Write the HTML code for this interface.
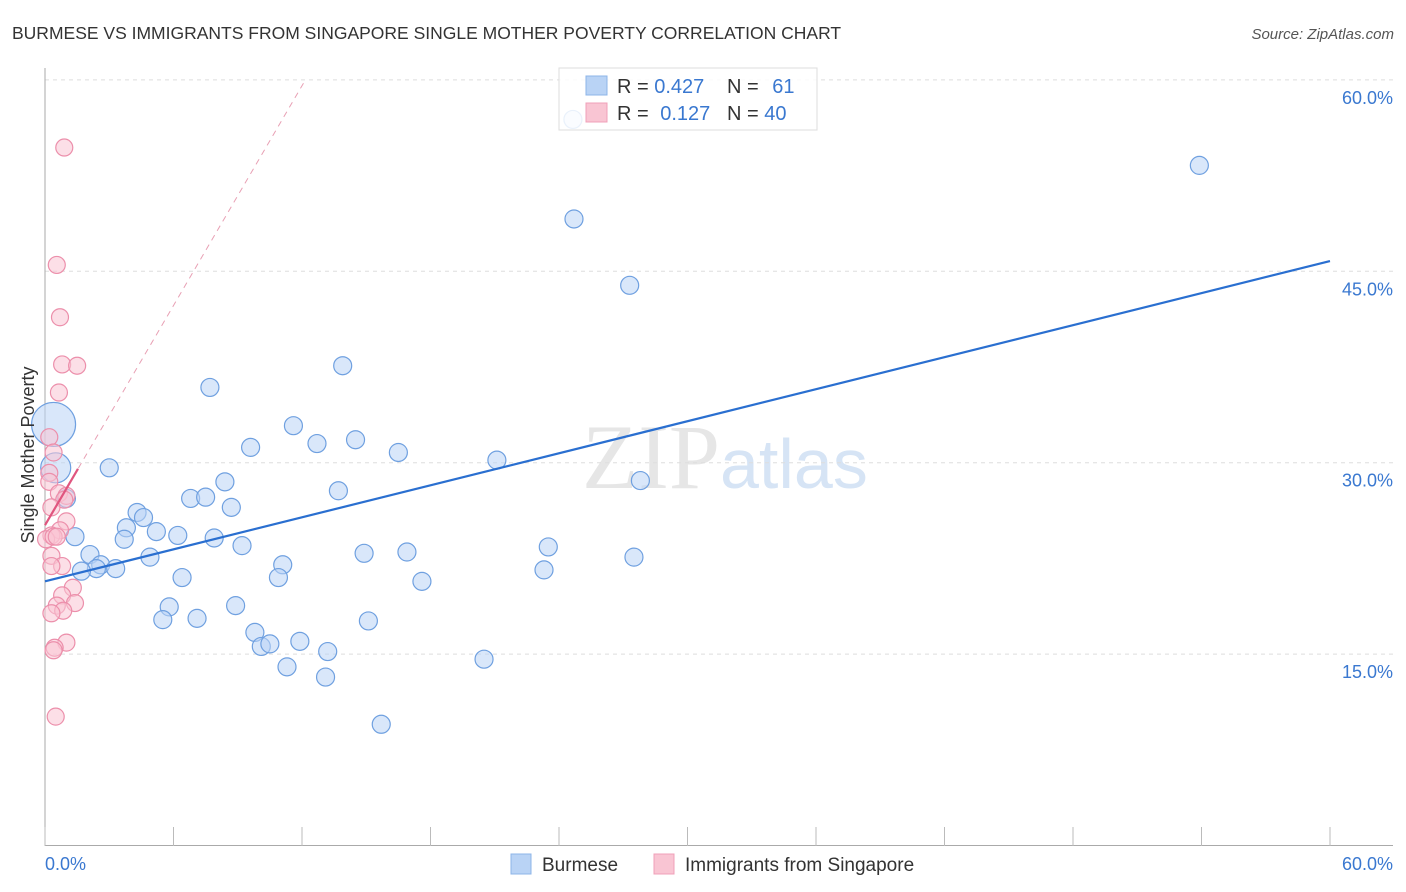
<!DOCTYPE html>
<html><head><meta charset="utf-8"><style>
body{margin:0;background:#fff;font-family:"Liberation Sans",sans-serif;}
svg{display:block}
</style></head><body>
<svg id="chart" width="1406" height="892">
<text x="12" y="39" font-size="17.5" fill="#333">BURMESE VS IMMIGRANTS FROM SINGAPORE SINGLE MOTHER POVERTY CORRELATION CHART</text>
<text x="1394" y="39" font-size="15" fill="#555" font-style="italic" text-anchor="end">Source: ZipAtlas.com</text>
<text x="720" y="488" font-size="92" fill="#e6e6e6" text-anchor="end" font-family="Liberation Serif,serif">ZIP</text>
<text x="720" y="488" font-size="70" fill="#d6e4f5">atlas</text>
<g id="grid"></g>
<g id="axes"></g>
<g id="marks"></g>
<text transform="translate(34,455) rotate(-90)" font-size="18" fill="#333" text-anchor="middle">Single Mother Poverty</text>
<g>
<rect x="559" y="68" width="258" height="62" fill="#fff" fill-opacity="0.85" stroke="#ddd"/>
<rect x="586" y="76" width="21" height="19" fill="#b9d3f5" stroke="#8db4e8"/>
<rect x="586" y="103" width="21" height="19" fill="#f9c5d3" stroke="#f0a0b8"/>
<text x="617" y="93" font-size="20" fill="#333">R = <tspan fill="#3a78d0">0.427</tspan></text>
<text x="727" y="93" font-size="20" fill="#333">N = <tspan fill="#3a78d0" dx="8">61</tspan></text>
<text x="617" y="120" font-size="20" fill="#333">R = <tspan fill="#3a78d0" dx="6">0.127</tspan></text>
<text x="727" y="120" font-size="20" fill="#333">N = <tspan fill="#3a78d0">40</tspan></text>
</g>
<g>
<rect x="511" y="854" width="20" height="20" fill="#b9d3f5" stroke="#8db4e8"/>
<text x="542" y="871" font-size="19" fill="#333">Burmese</text>
<rect x="654" y="854" width="20" height="20" fill="#f9c5d3" stroke="#f0a0b8"/>
<text x="685" y="871" font-size="19" fill="#333">Immigrants from Singapore</text>
</g>
</svg>
<script>
const yTicks=[15,30,45,60];
const yTickLabels=["15.0%","30.0%","45.0%","60.0%"];
const xTicks=[0,6,12,18,24,30,36,42,48,54,60];
const xLabels=["0.0%","60.0%"];
const blueX=[24.65,53.9,24.7,27.3,7.7,13.9,11.6,9.6,12.7,14.5,16.5,21.1,27.8,3.0,0.4,0.5,1.0,8.4,13.7,6.8,7.5,8.7,4.3,4.6,3.8,5.2,6.2,3.7,1.4,7.9,9.2,23.5,2.1,4.9,14.9,16.9,2.6,2.4,1.7,3.3,11.1,27.5,23.3,6.4,10.9,17.6,5.8,8.9,5.5,7.1,15.1,9.8,10.1,10.5,11.9,13.2,11.3,20.5,13.1,15.7];
const blueY=[56.9,53.3,49.1,43.9,35.9,37.6,32.9,31.2,31.5,31.8,30.8,30.2,28.6,29.6,33.0,29.6,27.2,28.5,27.8,27.2,27.3,26.5,26.1,25.7,24.9,24.6,24.3,24.0,24.2,24.1,23.5,23.4,22.8,22.6,22.9,23.0,22.0,21.7,21.5,21.7,22.0,22.6,21.6,21.0,21.0,20.7,18.7,18.8,17.7,17.8,17.6,16.7,15.6,15.8,16.0,15.2,14.0,14.6,13.2,9.5];
const blueR=[9,9,9,9,9,9,9,9,9,9,9,9,9,9,22,15,9,9,9,9,9,9,9,9,9,9,9,9,9,9,9,9,9,9,9,9,9,9,9,9,9,9,9,9,9,9,9,9,9,9,9,9,9,9,9,9,9,9,9,9];
const pinkX=[0.9,0.55,0.7,0.8,1.5,0.65,0.2,0.4,0.2,0.2,0.65,1.0,0.9,0.3,1.0,0.7,0.3,0.05,0.4,0.55,0.3,0.8,0.3,1.3,0.8,1.4,0.55,0.85,0.3,1.0,0.45,0.4,0.5];
const pinkY=[54.7,45.5,41.4,37.7,37.6,35.5,32.0,30.8,29.2,28.5,27.6,27.4,27.1,26.5,25.4,24.7,24.3,24.0,24.2,24.2,22.7,21.9,21.9,20.2,19.6,19.0,18.8,18.4,18.2,15.9,15.5,15.3,10.1];
const blueTrend=[20.7,45.8];
const pinkTrend=[25.1,2.87];
const X=v=>45+v/60*1285;
const Y=v=>845.5-v*12.76;
const NS="http://www.w3.org/2000/svg";
function mk(p,t,a){const e=document.createElementNS(NS,t);for(const k in a)e.setAttribute(k,a[k]);p.appendChild(e);return e;}
const grid=document.getElementById('grid'),axes=document.getElementById('axes'),marks=document.getElementById('marks');
yTicks.forEach((t,i)=>{
 const l=mk(grid,'line',{x1:45,x2:1393,y1:Y(t),y2:Y(t),stroke:'#ddd','stroke-dasharray':'4,4'});
 
 
 const tx=mk(axes,'text',{x:1393,y:Y(t)+24,'font-size':18,fill:'#3a78d0','text-anchor':'end'});
 tx.textContent=yTickLabels[i];
 
 
});
mk(axes,'line',{x1:45,x2:45,y1:68,y2:846,stroke:'#aaa'});
mk(axes,'line',{x1:45,x2:1393,y1:845.5,y2:845.5,stroke:'#aaa'});
xTicks.forEach(t=>{
 const l=mk(axes,'line',{x1:X(t),x2:X(t),y1:827,y2:846,stroke:'#bbb'});
 
 
});
const xl0=mk(axes,'text',{x:45,y:870,'font-size':18,fill:'#3a78d0'});xl0.textContent=xLabels[0];


const xl1=mk(axes,'text',{x:1393,y:870,'font-size':18,fill:'#3a78d0','text-anchor':'end'});xl1.textContent=xLabels[1];


blueX.forEach((x,i)=>{
 const c=mk(marks,'circle',{cx:X(x),cy:Y(blueY[i]),r:blueR[i],fill:'#b9d3f5','fill-opacity':0.55,stroke:'#6fa0e0','stroke-width':1.2});
 
 
});
pinkX.forEach((x,i)=>{
 const c=mk(marks,'circle',{cx:X(x),cy:Y(pinkY[i]),r:8.5,fill:'#f9c5d3','fill-opacity':0.55,stroke:'#ec8fab','stroke-width':1.2});
 
 
});
const bt=mk(marks,'line',{x1:X(0),y1:Y(blueTrend[0]),x2:X(60),y2:Y(blueTrend[1]),stroke:'#2a6fd0','stroke-width':2.2});


const xEnd=(60-pinkTrend[0])/pinkTrend[1];
const pd=mk(marks,'line',{x1:X(0),y1:Y(pinkTrend[0]),x2:X(xEnd),y2:Y(60),stroke:'#e8a0b4','stroke-width':1,'stroke-dasharray':'6,5'});


const ps=mk(marks,'line',{x1:X(0),y1:Y(pinkTrend[0]),x2:X(1.54),y2:Y(pinkTrend[0]+pinkTrend[1]*1.54),stroke:'#e0557f','stroke-width':2.2});


</script>
</body></html>
